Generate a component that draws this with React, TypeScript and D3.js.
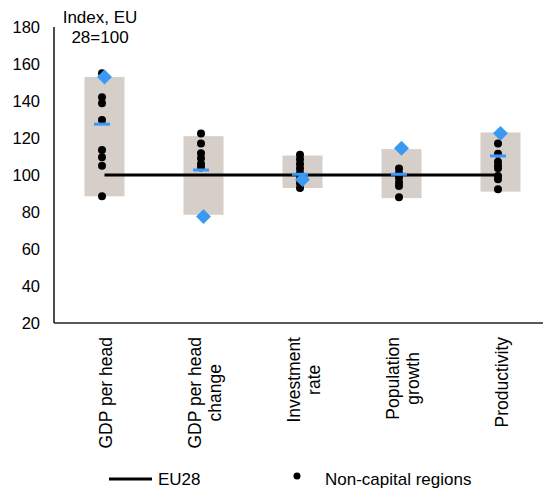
import { useEffect, useRef } from 'react';
import * as d3 from 'd3';

const categories = ['GDP per head', 'GDP per head change', 'Investment rate', 'Population growth', 'Productivity'];
const categoryLines = [['GDP per head'], ['GDP per head', 'change'], ['Investment', 'rate'], ['Population', 'growth'], ['Productivity']];

const rangeLow = [88.5, 78.5, 93, 87.5, 91];
const rangeHigh = [153, 121, 110.5, 114, 123];
const capitalRegion = [153, 77.5, 97.5, 114.5, 122.5];
const averageValue = [127.5, 102.7, 100.4, 100.4, 110.3];
const eu28 = [100, 100, 100, 100, 100];
const nonCapital = [
  [155, 142, 138.8, 129.7, 113.5, 109.6, 105, 88.5],
  [122.5, 117, 111.7, 109, 106, 104],
  [111, 108.5, 106, 103.5, 101, 98, 95.5, 93],
  [103.5, 101, 98.5, 96, 94, 88],
  [117, 111.5, 107.2, 105, 103.6, 99.5, 97.7, 92.3],
];
const yTicks = [20, 40, 60, 80, 100, 120, 140, 160, 180];

export default function App() {
  const svgRef = useRef<SVGSVGElement>(null);
  const width = 543;
  const height = 490;

  useEffect(() => {
    if (!svgRef.current) return;
    const svg = d3.select(svgRef.current);
    svg.selectAll('*').remove();

    const font = '"Liberation Sans", Arial, sans-serif';
    const blue = '#3a9af3';

    const x = d3.scaleBand<string>().domain(categories).range([55, 550]);
    const y = d3.scaleLinear().domain([20, 180]).range([323, 27]);
    const cx = (i: number) => (x(categories[i]) as number) + x.bandwidth() / 2;
    const dotShift = -2.5;

    // range boxes
    svg.append('g')
      .selectAll('rect')
      .data(categories)
      .join('rect')
      .attr('x', (_, i) => cx(i) - 20)
      .attr('width', 40)
      .attr('y', (_, i) => y(rangeHigh[i]))
      .attr('height', (_, i) => y(rangeLow[i]) - y(rangeHigh[i]))
      .attr('fill', '#d6cec9');

    // axes
    svg.append('line')
      .attr('x1', 54).attr('x2', 54)
      .attr('y1', y(180)).attr('y2', y(20))
      .attr('stroke', '#111').attr('stroke-width', 1.5);
    svg.append('line')
      .attr('x1', 54).attr('x2', width)
      .attr('y1', y(20)).attr('y2', y(20))
      .attr('stroke', '#222').attr('stroke-width', 1.5);

    svg.append('g')
      .selectAll('text')
      .data(yTicks)
      .join('text')
      .attr('x', 40)
      .attr('y', d => y(d))
      .attr('dy', '0.35em')
      .attr('text-anchor', 'end')
      .attr('font-family', font)
      .attr('font-size', 16.5)
      .text(d => d);

    // unit label
    const unit = svg.append('text')
      .attr('text-anchor', 'middle')
      .attr('font-family', font)
      .attr('font-size', 17);
    unit.append('tspan').attr('x', 100).attr('y', 23).text('Index, EU');
    unit.append('tspan').attr('x', 100).attr('y', 43).text('28=100');

    // category labels, rotated
    categoryLines.forEach((lines, i) => {
      const g = svg.append('g')
        .attr('transform', `translate(${cx(i) + 1},337) rotate(-90)`);
      const t = g.append('text')
        .attr('font-family', font)
        .attr('font-size', 17.5)
        .attr('text-anchor', 'end');
      const n = lines.length;
      lines.forEach((line, k) => {
        t.append('tspan')
          .attr('x', 0)
          .attr('y', (k - (n - 1) / 2) * 20 + 6)
          .text(line);
      });
      if (n > 1) {
        // centre the extra lines on the first one
        const spans = (t.node() as SVGTextElement).querySelectorAll('tspan');
        const w0 = (spans[0] as SVGTSpanElement).getComputedTextLength();
        spans.forEach((el, k) => {
          if (k === 0) return;
          const wk = (el as SVGTSpanElement).getComputedTextLength();
          d3.select(el).attr('x', -(w0 - wk) / 2);
        });
      }
    });

    // EU28 line
    const line = d3.line<number>()
      .x((_, i) => cx(i))
      .y(d => y(d));
    svg.append('path')
      .datum(eu28)
      .attr('d', line)
      .attr('fill', 'none')
      .attr('stroke', '#000')
      .attr('stroke-width', 3);

    // non-capital regions
    nonCapital.forEach((vals, i) => {
      svg.append('g')
        .selectAll('circle')
        .data(vals)
        .join('circle')
        .attr('cx', cx(i) + dotShift)
        .attr('cy', d => y(d))
        .attr('r', 4)
        .attr('fill', '#000');
    });

    // average dashes
    svg.append('g')
      .selectAll('rect')
      .data(averageValue)
      .join('rect')
      .attr('x', (_, i) => cx(i) + dotShift - 8)
      .attr('y', d => y(d) - 1.5)
      .attr('width', 16)
      .attr('height', 3)
      .attr('fill', blue);

    // capital region diamonds
    const diamond = d3.symbol().type(d3.symbolSquare).size(112);
    svg.append('g')
      .selectAll('path')
      .data(capitalRegion)
      .join('path')
      .attr('d', diamond)
      .attr('transform', (d, i) => `translate(${cx(i)},${y(d)}) rotate(45)`)
      .attr('fill', blue);

    // legend
    const legend = svg.append('g').attr('font-family', font).attr('font-size', 17);
    legend.append('line')
      .attr('x1', 109).attr('x2', 152)
      .attr('y1', 479).attr('y2', 479)
      .attr('stroke', '#000').attr('stroke-width', 3);
    legend.append('text').attr('x', 158).attr('y', 485).text('EU28');
    legend.append('circle').attr('cx', 297).attr('cy', 476).attr('r', 3.5).attr('fill', '#000');
    legend.append('text').attr('x', 325).attr('y', 485).text('Non-capital regions');
  }, []);

  return (
    <div style={{ position: 'absolute', left: 0, top: 0 }}>
      <svg ref={svgRef} width={width} height={height} viewBox={`0 0 ${width} ${height}`} style={{ display: 'block' }} />
    </div>
  );
}
